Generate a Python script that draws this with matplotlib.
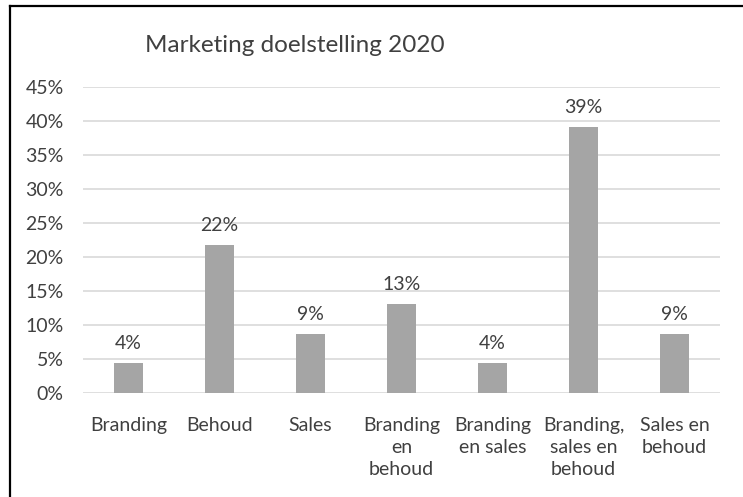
import matplotlib
matplotlib.use("Agg")
import matplotlib.pyplot as plt
from matplotlib.lines import Line2D
from matplotlib.ticker import MultipleLocator, FuncFormatter

plt.rcParams['font.family'] = ['Lato', 'DejaVu Sans']

categories = ["Branding", "Behoud", "Sales", "Branding\nen\nbehoud",
              "Branding\nen sales", "Branding,\nsales en\nbehoud", "Sales en\nbehoud"]
shares = [1/23, 5/23, 2/23, 3/23, 1/23, 9/23, 2/23]
title = "Marketing doelstelling 2020"

text_color = "#404040"
bar_color = "#A5A5A5"
grid_color = "#D9D9D9"

fig = plt.figure(figsize=(7.43, 4.97), dpi=100)
ax = fig.add_axes([83/743, 104/497, 637/743, 306/497])

x = range(len(categories))
ax.bar(x, shares, width=0.31, color=bar_color, zorder=3)

for xi, v in zip(x, shares):
    ax.annotate(f"{v*100:.0f}%", (xi, v), xytext=(0, 8), textcoords="offset points",
                ha="center", va="bottom", fontsize=14, color=text_color)

ax.set_xlim(-0.5, len(categories) - 0.5)
ax.set_ylim(0, 0.45)
ax.yaxis.set_major_locator(MultipleLocator(0.05))
ax.yaxis.set_major_formatter(FuncFormatter(lambda v, _: f"{v*100:.0f}%"))
ax.grid(axis="y", color=grid_color, linewidth=1.2, zorder=0)
ax.set_axisbelow(True)

for s in ax.spines.values():
    s.set_visible(False)
ax.tick_params(axis="both", length=0, labelsize=14, colors=text_color)
ax.tick_params(axis="y", pad=14)
ax.tick_params(axis="x", pad=17)
ax.set_xticks(list(x))
ax.set_xticklabels(categories, linespacing=1.38)

fig.text(295/743, 1 - 45/497, title, ha="center", va="center",
         fontsize=17.5, color=text_color)

# frame lines along top and left edges
fig.add_artist(Line2D([9.5/743, 9.5/743], [0, 1 - 5.5/497], transform=fig.transFigure,
                      color="black", linewidth=1.6))
fig.add_artist(Line2D([9.5/743, 1], [1 - 5.5/497, 1 - 5.5/497], transform=fig.transFigure,
                      color="black", linewidth=1.6))

fig.savefig("out.png", dpi=100)
